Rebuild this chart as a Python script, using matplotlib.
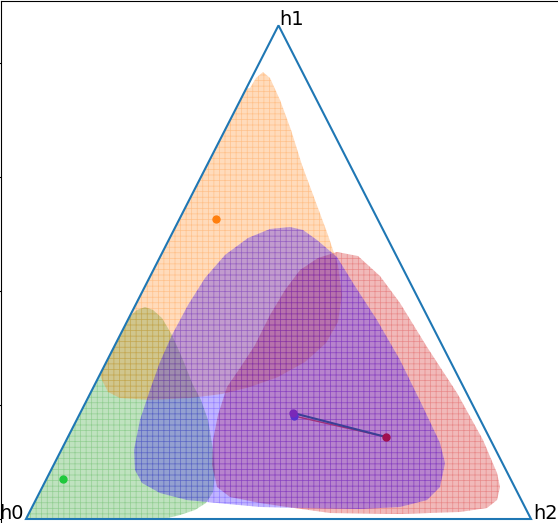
import numpy as np
import matplotlib
matplotlib.use('Agg')
import matplotlib.pyplot as plt
from matplotlib.patches import Polygon

plt.rcParams['font.family'] = ['DejaVu Sans']
plt.rcParams['hatch.linewidth'] = 0.5

# 单纯形顶点 h0, h1, h2
corner_labels = ['h0', 'h1', 'h2']
corner_x = [0.0, 0.5, 1.0]
corner_y = [0.0, 0.866, 0.0]

# 各区域边界 (x, y)，超出三角形的部分会被裁剪
orange_region = [(0.4693, 0.7842), (0.4832, 0.7737), (0.5030, 0.7351), (0.5248, 0.6825),
                 (0.5465, 0.6211), (0.5723, 0.5596), (0.5980, 0.4982), (0.6178, 0.4456),
                 (0.6257, 0.3930), (0.6178, 0.3456), (0.5941, 0.3088), (0.5525, 0.2754),
                 (0.4990, 0.2491), (0.4436, 0.2316), (0.3881, 0.2193), (0.3248, 0.2123),
                 (0.2455, 0.2088), (0.1861, 0.2123), (0.1624, 0.2228), (0.1505, 0.2439),
                 (0.1426, 0.2614), (0.0673, 0.2614), (0.4040, 0.7526), (0.4436, 0.7561),
                 (0.4554, 0.7737)]

green_region = [(0.2356, 0.3719), (0.2515, 0.3667), (0.2693, 0.3526), (0.2891, 0.3228),
                (0.3109, 0.2789), (0.3307, 0.2351), (0.3465, 0.2088), (0.3604, 0.1737),
                (0.3703, 0.1211), (0.3743, 0.0807), (0.3703, 0.0474), (0.3564, 0.0281),
                (0.3347, 0.0158), (0.3050, 0.0070), (0.2653, -0.0018), (0.2455, -0.0368),
                (-0.0515, -0.0368), (-0.0515, 0.3316), (0.1822, 0.3316), (0.2020, 0.3526),
                (0.2198, 0.3667)]

blue_region = [(0.5228, 0.5123), (0.5485, 0.5070), (0.5762, 0.4895), (0.6158, 0.4596),
               (0.6475, 0.4140), (0.6950, 0.3491), (0.7406, 0.2789), (0.7861, 0.1965),
               (0.8198, 0.1333), (0.8297, 0.0982), (0.8198, 0.0561), (0.7941, 0.0333),
               (0.7406, 0.0211), (0.6614, 0.0175), (0.5426, 0.0193), (0.4634, 0.0211),
               (0.3782, 0.0281), (0.3188, 0.0333), (0.2653, 0.0456), (0.2297, 0.0632),
               (0.2158, 0.0860), (0.2139, 0.1211), (0.2257, 0.1737), (0.2455, 0.2263),
               (0.2653, 0.2754), (0.2891, 0.3228), (0.3208, 0.3754), (0.3545, 0.4228),
               (0.3941, 0.4632), (0.4396, 0.4930), (0.4832, 0.5088)]

red_region = [(0.6158, 0.4684), (0.6574, 0.4614), (0.7010, 0.4263), (0.7406, 0.3789),
              (0.7941, 0.3018), (0.8535, 0.2211), (0.9050, 0.1386), (0.9327, 0.0807),
              (0.9386, 0.0561), (0.9327, 0.0333), (0.9129, 0.0193), (0.8594, 0.0123),
              (0.7406, 0.0088), (0.6020, 0.0105), (0.5168, 0.0211), (0.4634, 0.0281),
              (0.4040, 0.0386), (0.3782, 0.0561), (0.3683, 0.0947), (0.3703, 0.1386),
              (0.3802, 0.1825), (0.3980, 0.2316), (0.4238, 0.2649), (0.4535, 0.3053),
              (0.4832, 0.3579), (0.5129, 0.4018), (0.5426, 0.4368), (0.5782, 0.4579)]

# 各点位置
orange_pt = (0.376, 0.526)
green_pt = (0.0733, 0.0702)
purple_pt = (0.5287, 0.1860)
blue_pt = (0.5307, 0.1807)
red_pt = (0.7129, 0.1439)


def draw_region(ax, pts, color, clip, alpha=0.3):
    """画一个带网格纹理的半透明区域"""
    patch = Polygon(pts, closed=True, facecolor=color, edgecolor=color,
                    linewidth=0, alpha=alpha, hatch='+++')
    ax.add_patch(patch)
    patch.set_clip_path(clip)
    return patch


def plot_simplex():
    fig = plt.figure(figsize=(5.58, 5.23), dpi=100)
    # 坐标轴右侧和下侧超出画面，刻度标签落在图外
    ax = fig.add_axes([1 / 558, -81.5 / 523, 580.5 / 558, 603.5 / 523])
    ax.set_xlim(-0.0495, 1.1)
    ax.set_ylim(-0.15, 0.9088)

    tri = Polygon(list(zip(corner_x, corner_y)), closed=True, fill=False,
                  edgecolor='#1f77b4', linewidth=1.5, zorder=5)
    ax.add_patch(tri)

    draw_region(ax, green_region, '#2ca02c', tri, alpha=0.3)
    draw_region(ax, orange_region, '#ff7f0e', tri, alpha=0.28)
    draw_region(ax, red_region, '#d62728', tri, alpha=0.32)
    draw_region(ax, blue_region, '#2a00ff', tri, alpha=0.29)

    # 点和连线
    ax.plot(*orange_pt, 'o', color='#ff7f0e', markersize=5, zorder=6)
    ax.plot(*green_pt, 'o', color='#1fc83c', markersize=5, zorder=6)
    ax.plot([purple_pt[0], red_pt[0]], [purple_pt[1], red_pt[1]], color='#3b3f95',
            linewidth=1.5, zorder=6)
    ax.plot([blue_pt[0], red_pt[0]], [blue_pt[1], red_pt[1]], color='#a0307a',
            linewidth=1.0, zorder=5.9)
    ax.plot(*blue_pt, 'o', color='#5a30d0', markersize=5, zorder=6)
    ax.plot(*purple_pt, 'o', color='#7a28b8', markersize=5, zorder=6)
    ax.plot(*red_pt, 'o', color='#a0104f', markersize=5, zorder=6)

    # 顶点标签
    ax.text(corner_x[0] - 0.004, corner_y[0], corner_labels[0], fontsize=14,
            ha='right', va='baseline')
    ax.text(corner_x[1] + 0.002, corner_y[1], corner_labels[1], fontsize=14,
            ha='left', va='baseline')
    ax.text(corner_x[2] + 0.004, corner_y[2], corner_labels[2], fontsize=14,
            ha='left', va='baseline')

    fig.savefig('out.png', dpi=100)


if __name__ == "__main__":
    plot_simplex()
